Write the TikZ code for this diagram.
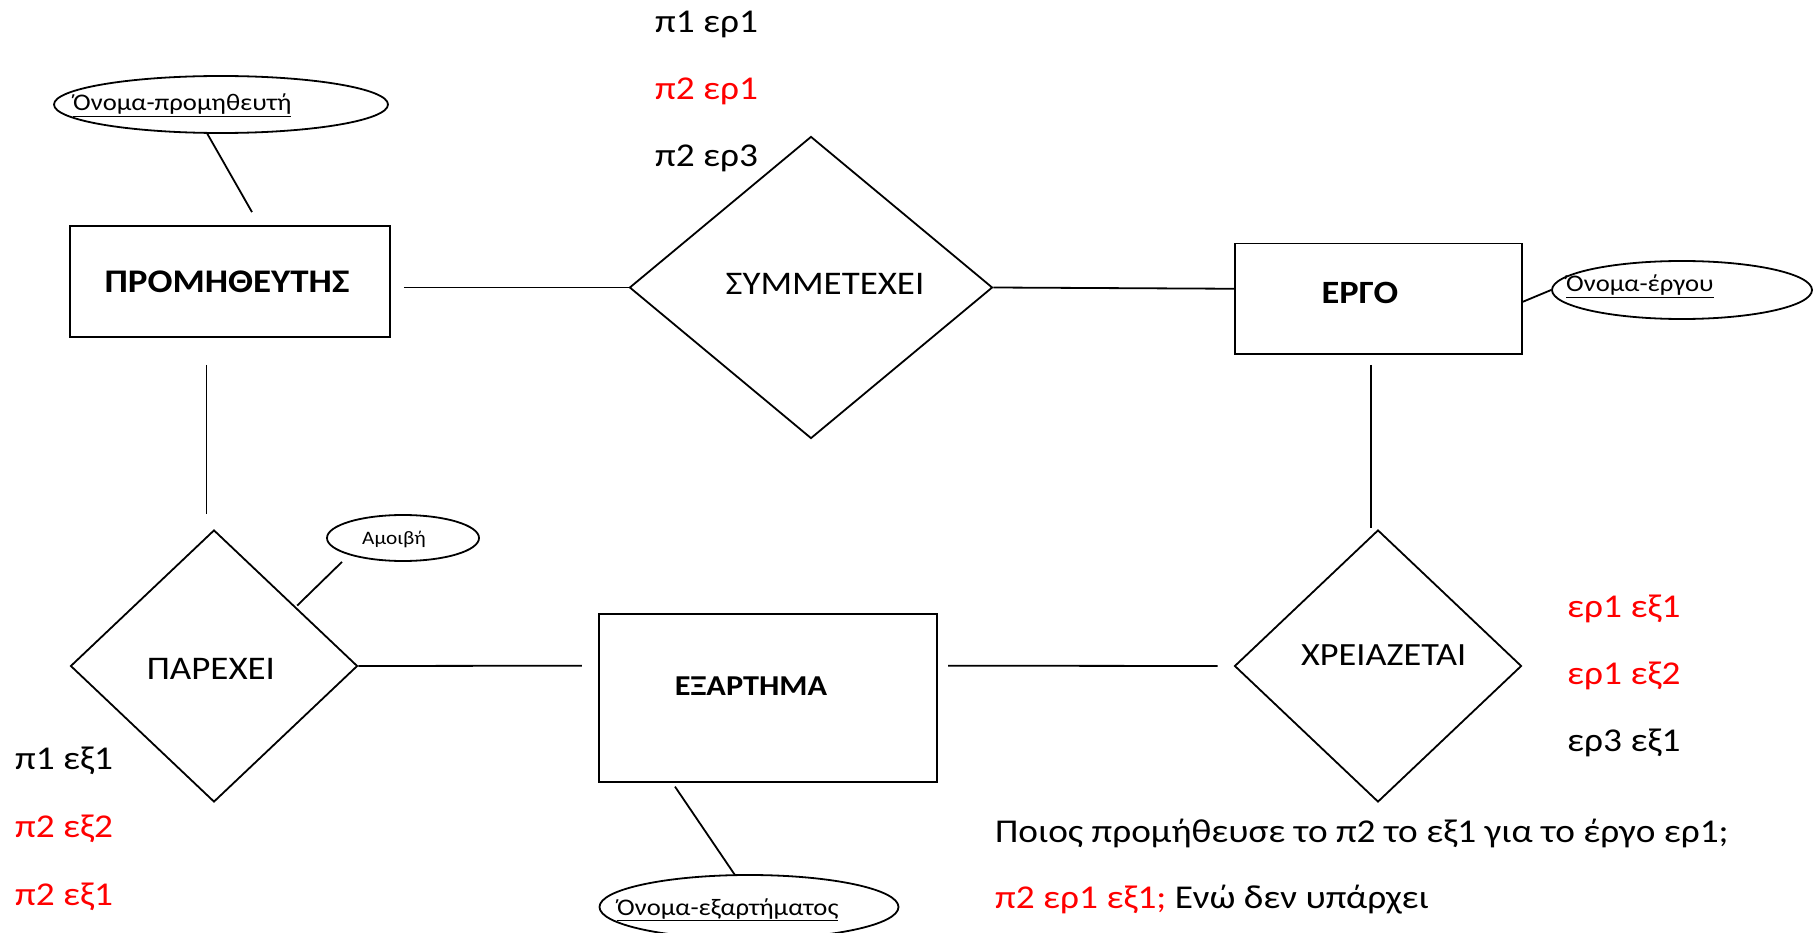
\documentclass[tikz,border=0pt]{standalone}
\usepackage{fontspec}
\setmainfont{Carlito}[FakeStretch=1.12]
\usetikzlibrary{shapes.geometric,calc}
\definecolor{myred}{RGB}{255,0,0}
\begin{document}
\begin{tikzpicture}[x=1pt,y=-1pt,
  ln/.style={line width=1.8pt,black},
  entity/.style={draw,line width=1.8pt,rectangle,inner sep=0pt},
  rel/.style={draw,line width=1.8pt,diamond,inner sep=0pt},
  attr/.style={draw,line width=1.8pt,ellipse,inner sep=0pt},
  lbl/.style={inner sep=0pt,anchor=base west},
  ctr/.style={inner sep=0pt,anchor=base},
  bigtxt/.style={font=\fontsize{33.3}{40}\selectfont},
  reltxt/.style={font=\fontsize{33}{40}\selectfont},
  enttxt/.style={font=\fontsize{33}{40}\selectfont\bfseries},
  attrtxt/.style={font=\fontsize{23.8}{28}\selectfont}
]
\useasboundingbox (0,0) rectangle (1818,933);
\fill[white] (0,0) rectangle (1818,933);

% entities
\node[entity,minimum width=320pt,minimum height=111pt] (P) at (230,281.5) {};
\node[entity,minimum width=287pt,minimum height=110.5pt] (E) at (1378.5,298.75) {};
\node[entity,minimum width=338.5pt,minimum height=168.5pt] (EX) at (768,698) {};

% relationships
\node[rel,minimum width=363pt,minimum height=302pt] (S) at (811,287.5) {};
\node[rel,minimum width=287pt,minimum height=272pt] (PA) at (214,666) {};
\node[rel,minimum width=287pt,minimum height=272pt] (X) at (1378,666) {};

% attributes
\node[attr,minimum width=334pt,minimum height=57pt] (pattr) at (221,104.5) {};
\node[attr,minimum width=260pt,minimum height=58pt] (eattr) at (1682,290) {};
\node[attr,minimum width=299pt,minimum height=64pt] (xattr) at (749,907) {};
\node[attr,minimum width=152pt,minimum height=46pt] (amo) at (403,538) {};

% texts in shapes
\node[ctr,enttxt] (tP) at (227,293) {ΠΡΟΜΗΘΕΥΤΗΣ};
\node[ctr,font=\fontsize{32.5}{40}\selectfont\bfseries] (tE) at (1360,303.3) {ΕΡΓΟ};
\node[ctr,font=\fontsize{28.8}{36}\selectfont\bfseries] (tEX) at (751,695.7) {ΕΞΑΡΤΗΜΑ};
\node[ctr,reltxt] (tS) at (825,295) {ΣΥΜΜΕΤΕΧΕΙ};
\node[ctr,reltxt] (tPA) at (211,679) {ΠΑΡΕΧΕΙ};
\node[ctr,font=\fontsize{32.4}{40}\selectfont] (tX) at (1383.7,665.7) {ΧΡΕΙΑΖΕΤΑΙ};

\node[lbl,attrtxt] (tpattr) at (73,110.7) {\underline{Όνομα-προμηθευτή}};
\node[lbl,attrtxt] (teattr) at (1566,291.7) {\underline{Όνομα-έργου}};
\node[lbl,attrtxt] (txattr) at (617,915) {\underline{Όνομα-εξαρτήματος}};
\node[lbl,font=\fontsize{19}{23}\selectfont] (tamo) at (362,544.3) {Αμοιβή};

% connectors
\draw[ln] (pattr.245) -- ($(P.north)+(22,-13)$);
\draw[ln] ($(P.east)+(13,6)$) -- (S.west);
\draw[ln] (S.east) -- ($(E.west)+(0,-10)$);
\draw[ln] ($(E.east)+(0,3)$) -- (eattr.west);
\draw[ln] ($(E.south)+(-7.5,10)$) -- ($(X.north)+(-7,-1)$);
\draw[ln,line width=1.1pt] ($(P.south)+(-23.5,27)$) -- ($(PA.north)+(-7.5,-15)$);
\draw[ln] (PA.east) -- ($(EX.west)+(-16,-32.3)$);
\draw[ln] ($(EX.east)+(10,-32.3)$) -- ($(X.west)+(-16,0)$);
\draw[ln] ($(PA.north east)+(11,8)$) -- ($(amo.south)+(-61,0)$);
\draw[ln] ($(EX.south)+(-93,3.5)$) -- ($(xattr.north)+(-14,1)$);

% lists
\node[lbl,bigtxt] (s1) at (655,33) {π1 ερ1};
\node[lbl,bigtxt,text=myred] (s2) at (655,100) {π2 ερ1};
\node[lbl,bigtxt] (s3) at (655,167) {π2 ερ3};

\node[lbl,bigtxt] (p1) at (15,769) {π1 εξ1};
\node[lbl,bigtxt,text=myred] (p2) at (15,837) {π2 εξ2};
\node[lbl,bigtxt,text=myred] (p3) at (15,905) {π2 εξ1};

\node[lbl,bigtxt,text=myred] (x1) at (1567,617) {ερ1 εξ1};
\node[lbl,bigtxt,text=myred] (x2) at (1567,684) {ερ1 εξ2};
\node[lbl,bigtxt] (x3) at (1567,751) {ερ3 εξ1};

\node[lbl,bigtxt] (q1) at (995,842) {Ποιος προμήθευσε το π2 το εξ1 για το έργο ερ1;};
\node[lbl,bigtxt] (q2) at (995,908) {\textcolor{myred}{π2 ερ1 εξ1;} Ενώ δεν υπάρχει};
\end{tikzpicture}
\end{document}
